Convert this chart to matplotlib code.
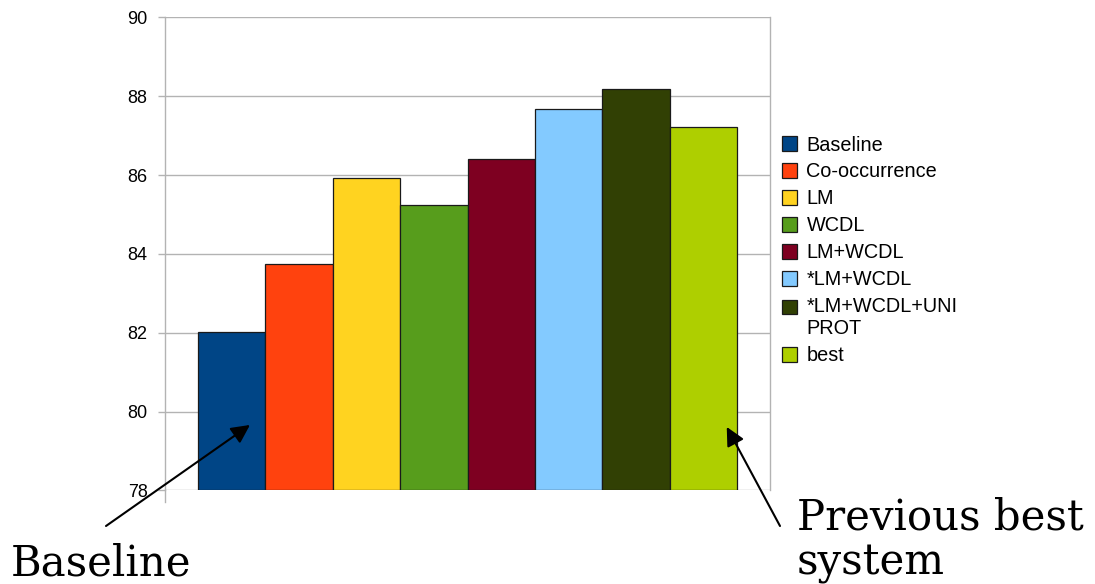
import matplotlib
matplotlib.use("Agg")
import matplotlib.pyplot as plt
from matplotlib.patches import Patch

categories = ["Baseline", "Co-occurrence", "LM", "WCDL", "LM+WCDL", "*LM+WCDL",
              "*LM+WCDL+UNI\nPROT", "best"]
values = [82.02, 83.74, 85.93, 85.24, 86.41, 87.67, 88.17, 87.21]
colors = ["#004586", "#ff420e", "#ffd320", "#579d1c", "#7e0021", "#83caff",
          "#314004", "#aecf00"]
yticks = [78, 80, 82, 84, 86, 88, 90]
ymin, ymax = 78, 90

plt.rcParams['font.family'] = ['Liberation Sans', 'DejaVu Sans']

fig = plt.figure(figsize=(10.95, 5.84), dpi=100)
ax = fig.add_axes([165/1095, 1-490.4/584, 605/1095, (490.4-17.3)/584])

x = list(range(len(values)))
bottoms = [ymin] * len(values)
heights = [v - ymin for v in values]
ax.bar(x, heights, bottom=bottoms, width=1.0, color=colors, edgecolor="#1a1a1a",
       linewidth=0.9, zorder=3)

ax.set_xlim(-0.99, 7.99)
ax.set_ylim(ymin, ymax)
ax.set_yticks(yticks)
ax.set_yticklabels([str(t) for t in yticks], fontsize=13)
ax.set_xticks([])
ax.yaxis.grid(True, color="#b3b3b3", linewidth=1.0, zorder=0)
ax.tick_params(axis='y', length=5, width=1.0, color="#b3b3b3", pad=7.5, direction='out')
for s in ["top", "bottom"]:
    ax.spines[s].set_visible(False)
for s in ["left", "right"]:
    ax.spines[s].set_color("#b3b3b3")
    ax.spines[s].set_linewidth(1.0)
ax.plot([0, 0], [0, -0.025], transform=ax.transAxes, color="#b3b3b3", lw=1.0,
        clip_on=False, zorder=1)

handles = [Patch(facecolor=c, edgecolor="#1a1a1a", linewidth=0.9) for c in colors]
leg = fig.legend(handles, categories, loc="upper left",
                 bbox_to_anchor=(782/1095, 1-135.5/584), frameon=False, fontsize=14.3,
                 handlelength=0.75, handleheight=0.75, handletextpad=0.48,
                 labelspacing=0.40, borderaxespad=0, borderpad=0)
for t in leg.get_texts():
    t.set_linespacing(1.22)
# put the square of the two-line entry next to its first line
for h, lab in zip(leg.legend_handles, categories):
    if "\n" in lab:
        h.set_y(h.get_y() + 8.3)

arrow = dict(arrowstyle='-|>', mutation_scale=28, lw=1.5, color='black',
             shrinkA=0, shrinkB=0)
ax.annotate("", xy=(0.271, 79.66), xycoords='data',
            xytext=(106/1095, 1-526/584), textcoords='figure fraction',
            arrowprops=arrow, annotation_clip=False)
ax.annotate("", xy=(7.348, 79.61), xycoords='data',
            xytext=(780/1095, 1-526/584), textcoords='figure fraction',
            arrowprops=arrow, annotation_clip=False)

serif = dict(family='DejaVu Serif', fontsize=30.2, color='black')
fig.text(11/1095, 1-575/584, "Baseline", va='baseline', ha='left', **serif)
fig.text(797/1095, 1-530/584, "Previous best", va='baseline', ha='left', **serif)
fig.text(797/1095, 1-575/584, "system", va='baseline', ha='left', **serif)

fig.savefig("out.png", dpi=100)
